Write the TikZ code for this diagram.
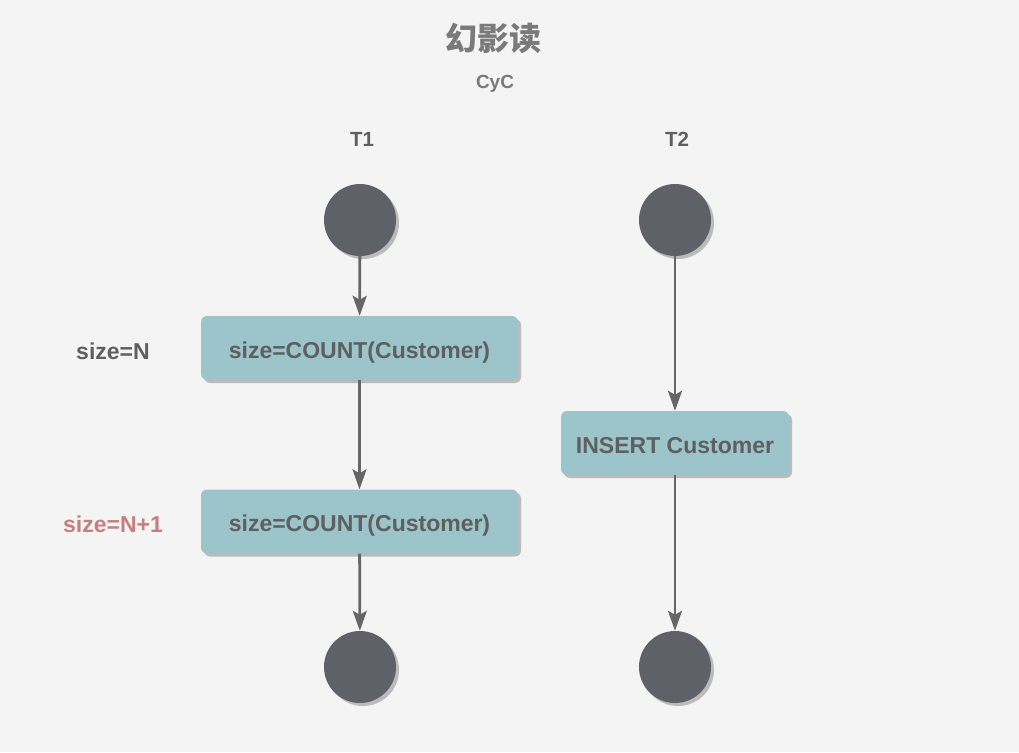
\documentclass[tikz,border=0pt]{standalone}
\usepackage{fontspec}
\setmainfont{Liberation Sans}
\newfontfamily\cjk{Noto Sans CJK SC}
\usetikzlibrary{arrows.meta,shadows}
\definecolor{bg}{HTML}{F4F4F4}
\definecolor{dot}{HTML}{5F6168}
\definecolor{boxc}{HTML}{9BC4CB}
\definecolor{txt}{HTML}{5F5F5F}
\definecolor{arr}{HTML}{666666}
\definecolor{shd}{HTML}{BBBBBB}
\definecolor{red1}{HTML}{C4807F}
\definecolor{ttl}{HTML}{7A7A7A}
\tikzset{
  dotnode/.style={circle, fill=dot, minimum size=72pt, inner sep=0pt,
    drop shadow={shadow xshift=3pt, shadow yshift=-3pt, fill=shd, opacity=1}},
  boxnode/.style={rounded corners=6pt, fill=boxc, minimum height=64pt, text=txt,
    text height=20pt, text depth=0pt,
    font=\fontsize{23}{27}\selectfont\bfseries,
    drop shadow={shadow xshift=3pt, shadow yshift=-3pt, fill=shd, opacity=1}},
  lbl/.style={text=txt, font=\fontsize{23}{27}\selectfont\bfseries},
  flow/.style={draw=arr, line width=2.8pt, -{Stealth[length=20pt,width=14pt,inset=4pt]}}
}
\begin{document}
\begin{tikzpicture}[x=1pt,y=-1pt]
\fill[bg] (0,0) rectangle (1019,752);
\useasboundingbox (0,0) rectangle (1019,752);
\node[text=ttl, font=\cjk\fontsize{32}{36}\selectfont\bfseries] (title) at (493,38) {幻影读};
\node[text=ttl, font=\fontsize{19}{22}\selectfont\bfseries] (sub) at (495,84) {CyC};
\node[lbl, font=\fontsize{20.5}{24}\selectfont\bfseries] (t1) at (362,139) {T1};
\node[lbl, font=\fontsize{20.5}{24}\selectfont\bfseries] (t2) at (677,139) {T2};
\node[dotnode] (s1) at (360,220) {};
\node[dotnode] (s2) at (675,220) {};
\node[dotnode] (e1) at (360,667) {};
\node[dotnode] (e2) at (675,667) {};
\node[boxnode, minimum width=317pt] (b1) at (359.5,348) {size=COUNT(Customer)};
\node[boxnode, minimum width=317pt] (b2) at (359.5,521.5) {size=COUNT(Customer)};
\node[boxnode, minimum width=228pt] (b3) at (675,443) {INSERT Customer};
\node[lbl] (n1) at (113,351) {size=N};
\node[lbl, text=red1] (n2) at (113,524) {size=N+1};
\draw[flow] (s1) -- (b1);
\draw[flow] (b1) -- (b2);
\draw[flow] (b2) -- (e1);
\draw[flow] (s2) -- (b3);
\draw[flow] (b3) -- (e2);
\end{tikzpicture}
\end{document}
